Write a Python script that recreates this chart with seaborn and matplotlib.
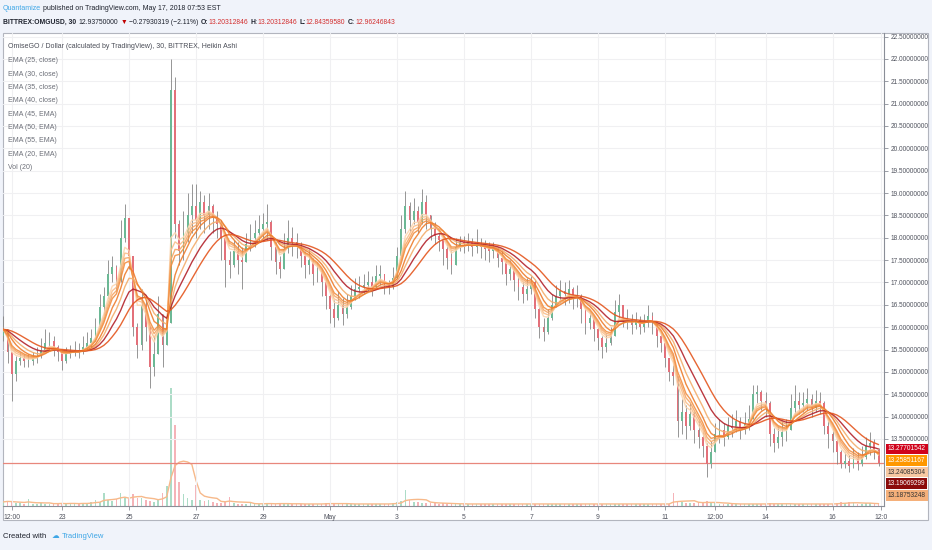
import numpy as np
import pandas as pd
import matplotlib
matplotlib.use("Agg")
import matplotlib.pyplot as plt
import matplotlib.dates as mdates
from matplotlib.patches import Rectangle
from matplotlib import font_manager
import seaborn as sns

W, H = 932, 550

# ------------------- data (3h Heikin Ashi bars, OMG/USD) -------------------
start = "2018-04-21 06:00"

close = [
    15.95, 15.45, 14.95, 15.25, 15.30, 15.25,                      # Apr 21 (from 06:00)
    15.25, 15.30, 15.35, 15.50, 15.65, 15.70, 15.55, 15.45,        # Apr 22
    15.25, 15.40, 15.45, 15.50, 15.45, 15.55, 15.65, 15.75,        # Apr 23
    16.00, 16.45, 16.70, 17.20, 17.35, 17.05, 18.00, 18.45,        # Apr 24
    17.60, 16.00, 15.60, 16.50, 16.00, 15.10, 15.40, 16.30,        # Apr 25
    15.60, 16.10, 21.30, 18.30, 17.70, 18.10, 18.50, 18.70,        # Apr 26
    18.40, 18.80, 18.50, 18.70, 18.45, 18.30, 18.00, 17.50,        # Apr 27
    17.40, 17.70, 17.50, 17.45, 17.85, 18.00, 18.10, 18.20,        # Apr 28
    18.30, 18.35, 17.80, 17.45, 17.30, 17.75, 18.00, 17.90,        # Apr 29
    17.80, 17.60, 17.40, 17.50, 17.20, 17.25, 17.00, 16.70,        # Apr 30
    16.40, 16.20, 16.50, 16.30, 16.45, 16.70, 16.85, 16.90,        # May 1
    16.95, 17.00, 16.90, 17.15, 17.20, 16.95, 16.90, 17.10,        # May 2
    17.60, 18.20, 18.70, 18.40, 18.60, 18.35, 18.80, 18.50,        # May 3
    18.20, 18.05, 17.95, 17.75, 17.55, 17.40, 17.80, 17.90,        # May 4
    17.85, 17.90, 17.80, 17.85, 17.80, 17.75, 17.70, 17.75,        # May 5
    17.55, 17.45, 17.20, 17.30, 17.05, 16.90, 16.75, 16.85,        # May 6
    17.00, 16.40, 16.00, 15.90, 16.20, 16.50, 16.70, 16.80,        # May 7
    16.75, 16.85, 16.65, 16.70, 16.40, 16.10, 16.20, 15.95,        # May 8
    15.75, 15.55, 15.65, 15.80, 16.35, 16.50, 16.20, 16.15,        # May 9
    16.05, 16.15, 16.00, 16.10, 16.25, 16.10, 15.80, 15.65,        # May 10
    15.30, 15.00, 14.90, 13.90, 14.10, 13.80, 14.05, 13.70,        # May 11
    13.55, 13.35, 12.95, 13.20, 13.60, 13.70, 13.55, 13.80,        # May 12
    13.75, 13.90, 13.70, 13.85, 13.95, 14.50, 14.55, 14.35,        # May 13
    14.30, 13.60, 13.40, 13.55, 13.65, 13.70, 14.20, 14.35,        # May 14
    14.25, 14.30, 14.40, 14.20, 14.35, 14.30, 13.80, 13.60,        # May 15
    13.45, 13.20, 12.95, 13.00, 12.90, 13.05, 12.95, 13.10,        # May 16
    13.35, 13.40, 13.25, 12.96,                                    # May 17
]

high = [
    16.25, 15.95, 15.45, 15.35, 15.45, 15.40,
    15.40, 15.45, 15.55, 15.75, 15.95, 15.90, 15.80, 15.60,
    15.50, 15.55, 15.60, 15.70, 15.65, 15.80, 15.90, 15.95,
    16.20, 16.75, 16.90, 17.50, 17.60, 17.40, 18.40, 18.75,
    18.30, 17.60, 16.10, 16.85, 16.60, 16.00, 15.80, 16.70,
    16.30, 16.40, 22.00, 21.60, 18.40, 18.60, 19.00, 19.20,
    19.20, 19.05, 18.95, 19.00, 18.75, 18.60, 18.40, 18.10,
    17.70, 17.95, 17.90, 17.80, 18.10, 18.30, 18.40, 18.50,
    18.55, 18.75, 18.40, 17.90, 17.60, 18.10, 18.40, 18.25,
    18.10, 17.90, 17.70, 17.75, 17.55, 17.45, 17.30, 17.10,
    16.75, 16.60, 16.80, 16.65, 16.75, 16.95, 17.10, 17.15,
    17.20, 17.25, 17.15, 17.40, 17.40, 17.20, 17.05, 17.35,
    17.80, 18.50, 19.05, 18.80, 18.90, 18.70, 19.10, 18.95,
    18.50, 18.35, 18.20, 18.05, 17.85, 17.70, 18.00, 18.05,
    18.05, 18.10, 18.00, 18.20, 18.00, 17.95, 17.90, 17.90,
    17.80, 17.70, 17.50, 17.50, 17.35, 17.15, 17.00, 17.10,
    17.15, 17.05, 16.45, 16.20, 16.40, 16.75, 16.95, 17.05,
    17.00, 17.05, 16.90, 16.95, 16.75, 16.40, 16.35, 16.25,
    16.00, 15.80, 15.85, 16.00, 16.60, 16.75, 16.50, 16.40,
    16.30, 16.35, 16.25, 16.30, 16.50, 16.35, 16.10, 15.90,
    15.60, 15.30, 15.15, 14.90, 14.40, 14.25, 14.30, 14.10,
    13.90, 13.65, 13.40, 13.45, 13.85, 13.95, 13.85, 14.00,
    14.05, 14.15, 14.00, 14.10, 14.25, 14.70, 14.70, 14.60,
    14.55, 14.35, 13.75, 13.80, 13.90, 13.95, 14.50, 14.70,
    14.55, 14.55, 14.65, 14.50, 14.60, 14.55, 14.35, 13.95,
    13.75, 13.50, 13.25, 13.20, 13.15, 13.30, 13.20, 13.35,
    13.55, 13.65, 13.50, 13.30,
]

low = [
    15.70, 15.20, 14.35, 14.80, 15.15, 15.10,
    15.10, 15.15, 15.20, 15.30, 15.45, 15.50, 15.35, 15.25,
    15.05, 15.20, 15.30, 15.35, 15.30, 15.40, 15.50, 15.55,
    15.70, 15.95, 16.30, 16.65, 17.00, 16.80, 17.00, 17.90,
    17.30, 15.80, 15.30, 15.50, 15.70, 14.65, 14.90, 15.40,
    15.10, 15.60, 16.10, 18.00, 17.40, 17.50, 17.90, 18.10,
    18.00, 18.20, 18.10, 18.20, 18.10, 18.00, 17.50, 16.90,
    17.10, 17.35, 17.20, 16.85, 17.50, 17.70, 17.80, 17.90,
    18.00, 17.95, 17.50, 17.20, 17.10, 17.30, 17.65, 17.60,
    17.55, 17.35, 17.10, 17.20, 16.95, 17.00, 16.70, 16.40,
    16.10, 16.00, 16.15, 16.05, 16.20, 16.40, 16.60, 16.65,
    16.75, 16.80, 16.70, 16.90, 16.95, 16.75, 16.75, 16.85,
    17.20, 17.55, 18.10, 18.15, 18.30, 18.10, 18.30, 18.20,
    17.95, 17.85, 17.70, 17.40, 17.30, 17.20, 17.40, 17.70,
    17.65, 17.70, 17.60, 17.65, 17.55, 17.50, 17.45, 17.55,
    17.35, 17.20, 16.95, 17.05, 16.80, 16.60, 16.55, 16.60,
    16.75, 16.20, 15.75, 15.70, 15.85, 16.15, 16.45, 16.55,
    16.50, 16.55, 16.40, 16.45, 16.10, 15.85, 15.95, 15.70,
    15.50, 15.30, 15.45, 15.60, 15.80, 16.20, 16.00, 15.95,
    15.85, 15.95, 15.85, 15.90, 16.00, 15.85, 15.55, 15.45,
    15.10, 14.80, 14.70, 13.55, 13.60, 13.50, 13.70, 13.40,
    13.30, 13.10, 12.65, 12.85, 13.30, 13.40, 13.35, 13.50,
    13.55, 13.65, 13.50, 13.60, 13.70, 13.95, 14.30, 14.15,
    14.00, 13.35, 13.20, 13.30, 13.35, 13.45, 13.70, 14.05,
    14.05, 14.10, 14.15, 14.00, 14.10, 14.05, 13.60, 13.30,
    13.20, 12.95, 12.85, 12.85, 12.75, 12.85, 12.80, 12.90,
    13.05, 13.15, 13.05, 12.90,
]

first_open = 15.80

volume = [
    4, 5, 4, 3, 3, 2,
    7, 2, 2, 3, 2, 2, 3, 2,
    3, 2, 3, 2, 2, 3, 3, 4,
    6, 4, 13, 6, 5, 7, 13, 8,
    7, 12, 8, 8, 6, 5, 4, 6,
    13, 20, 116, 79, 24, 12, 8, 6,
    21, 6, 5, 6, 4, 3, 3, 4,
    9, 3, 2, 2, 2, 3, 2, 2,
    2, 3, 2, 2, 3, 2, 2, 2,
    2, 2, 2, 2, 2, 2, 2, 3,
    3, 2, 2, 2, 2, 2, 2, 2,
    2, 2, 2, 2, 2, 2, 2, 3,
    4, 5, 16, 6, 4, 4, 3, 3,
    3, 3, 2, 3, 2, 2, 2, 2,
    2, 2, 2, 2, 2, 2, 2, 2,
    2, 2, 2, 2, 2, 2, 2, 2,
    2, 2, 2, 2, 2, 2, 2, 2,
    2, 2, 2, 2, 2, 2, 2, 2,
    2, 2, 2, 2, 2, 2, 2, 2,
    2, 2, 2, 2, 2, 2, 2, 2,
    2, 2, 13, 5, 4, 3, 3, 3,
    4, 3, 5, 3, 3, 2, 2, 2,
    2, 2, 2, 2, 2, 2, 2, 2,
    2, 3, 2, 2, 2, 2, 2, 2,
    2, 2, 2, 2, 2, 2, 2, 2,
    2, 3, 4, 3, 4, 3, 2, 2,
    3, 3, 2, 2,
]

# EMA study list: (label, source, length on 30-min bars, colour)
ema_specs = [
    ("EMA (25, close)", "close", 25, "#fcd6b0"),
    ("EMA (30, close)", "close", 30, "#f9bf8c"),
    ("EMA (35, close)", "close", 35, "#f6a766"),
    ("EMA (40, close)", "close", 40, "#f28f42"),
    ("EMA (45, EMA)", "EMA (25, close)", 45, "#f3ad6c"),
    ("EMA (50, EMA)", "EMA (40, close)", 50, "#b3232b"),
    ("EMA (55, EMA)", "EMA (45, EMA)", 55, "#e4561e"),
    ("EMA (20, EMA)", "EMA (35, close)", 20, "#ee7d2c"),
]

x_ticks = ["2018-04-21 12:00", "2018-04-23 00:00", "2018-04-25 00:00", "2018-04-27 00:00",
           "2018-04-29 00:00", "2018-05-01 00:00", "2018-05-03 00:00", "2018-05-05 00:00",
           "2018-05-07 00:00", "2018-05-09 00:00", "2018-05-11 00:00", "2018-05-12 12:00",
           "2018-05-14 00:00", "2018-05-16 00:00", "2018-05-17 10:45"]
x_labels = ["12:00", "23", "25", "27", "29", "May", "3", "5", "7", "9", "11", "12:00", "14", "16", "12:0"]

last_close = 12.96246843
price_tags = [13.27701542, 13.25851167, 13.24085304, 13.19069299, 13.18753248]
tag_colors = ["#d0021b", "#ff9800", "#f8c9a3", "#8b0a0a", "#f5b07a"]
tag_text = ["white", "white", "#333333", "white", "#333333"]

# ------------------- build frame -------------------
times = pd.date_range(start, periods=len(close), freq="3h")
df = pd.DataFrame({"close": close, "high": high, "low": low, "vol": volume}, index=times)
df["open"] = [first_open] + close[:-1]
df["t"] = mdates.date2num(df.index.to_pydatetime())

# 30-min lengths -> 3h bars
for name, src, length, _ in ema_specs:
    df[name] = df[src].ewm(span=length / 6.0, adjust=False).mean()
df["volma"] = df["vol"].rolling(6, min_periods=1).mean()

long_df = df.melt(id_vars="t", value_vars=[s[0] for s in ema_specs], var_name="study", value_name="price")
palette = {s[0]: s[3] for s in ema_specs}

# ------------------- fonts -------------------
sns.set_theme(style="white")
names = {f.name for f in font_manager.fontManager.ttflist}
narrow = "Liberation Sans Narrow" in names
base = "Liberation Sans Narrow" if narrow else "Liberation Sans"
k = 1.0 if narrow else 0.84
plt.rcParams["font.family"] = [base, "DejaVu Sans"]

# ------------------- figure -------------------
fig = plt.figure(figsize=(W / 100, H / 100), dpi=100, facecolor="#f0f3fa")
fig.patches.append(Rectangle((3 / W, 1 - 520 / H), 925 / W, 487 / H, transform=fig.transFigure,
                             fc="white", ec="#b2b5be", lw=0.8, zorder=-5))

ax = fig.add_axes([3 / W, 1 - 506 / H, 881 / W, 473 / H])
vol_ax = ax.twinx()
ax.set_zorder(vol_ax.get_zorder() + 1)
ax.patch.set_visible(False)

# volume overlay
up_vol = df["close"] >= df["open"]
vol_ax.bar(df["t"], df["vol"], width=0.05, color=np.where(up_vol, "#a3d9c1", "#f4abb1"), lw=0, alpha=0.9)
sns.lineplot(x=df["t"], y=df["volma"], ax=vol_ax, color="#f7b98a", lw=1.0)
vol_ax.set_ylim(0, df["vol"].max() * 4.0)
vol_ax.set_axis_off()

# Heikin Ashi candles
hi = np.maximum(df["high"], np.maximum(df["open"], df["close"]))
lo = np.minimum(df["low"], np.minimum(df["open"], df["close"]))
up = df["close"] >= df["open"]
body_lo = np.minimum(df["open"], df["close"])
body_h = np.maximum(np.abs(df["close"] - df["open"]), 0.015)
ax.vlines(df["t"], lo, hi, color="#858585", lw=0.6, zorder=2)
ax.bar(df["t"], body_h, bottom=body_lo, width=0.055, color=np.where(up, "#6cb895", "#e3707a"), lw=0, zorder=3)

# EMA ribbons
sns.lineplot(data=long_df, x="t", y="price", hue="study", palette=palette, estimator=None,
             lw=1.0, alpha=0.9, legend=False, ax=ax, zorder=4)

ax.axhline(last_close, color="#e8877c", lw=0.9, zorder=1.5)

ax.set_xlim(mdates.date2num(pd.Timestamp("2018-04-21 05:44")), mdates.date2num(pd.Timestamp("2018-05-17 12:53")))
ax.set_ylim(12.0, 22.58)
ax.set_xlabel("")
ax.set_ylabel("")

ax.set_xticks(mdates.date2num(pd.to_datetime(x_ticks, format="%Y-%m-%d %H:%M").to_pydatetime()))
ax.set_xticklabels(x_labels)
yt = np.arange(13.5, 22.51, 0.5)
ax.set_yticks(yt)
ax.set_yticklabels([f"{v:.8f}" for v in yt])
ax.yaxis.tick_right()
ax.tick_params(axis="y", right=True, left=False, length=3, width=0.6, color="#8a8e97",
               labelsize=5.6 * k, labelcolor="#50535e", pad=2)
ax.tick_params(axis="x", bottom=True, length=3, width=0.6, color="#8a8e97",
               labelsize=5.8 * k, labelcolor="#50535e", pad=3)
ax.grid(True, color="#f0f0f2", lw=0.8)
for side in ["left", "top"]:
    ax.spines[side].set_visible(False)
for side in ["right", "bottom"]:
    ax.spines[side].set_color("#8a8e97")
    ax.spines[side].set_linewidth(0.8)

# legend block
ax.text(5 / 881, 1 - 14 / 473, "OmiseGO / Dollar (calculated by TradingView), 30, BITTREX, Heikin Ashi",
        transform=ax.transAxes, fontsize=6.0 * k, color="#4a4d57", va="center", ha="left", zorder=6)
for i, label in enumerate([s[0] for s in ema_specs] + ["Vol (20)"]):
    ax.text(5 / 881, 1 - (28 + 13.3 * i) / 473, label, transform=ax.transAxes,
            fontsize=6.0 * k, color="#6c6f78", va="center", ha="left", zorder=6)

# stacked price tags on the scale
x_last = df["t"].iloc[-1]
prev = None
for v, fc, tc in zip(price_tags, tag_colors, tag_text):
    y = ax.transData.transform((x_last, v))[1]
    if prev is not None:
        y = min(y, prev - 11.6)
    prev = y
    fig.text(888 / W, y / H, f"{v:.8f}", fontsize=5.6 * k, color=tc, va="center", ha="left",
             bbox=dict(boxstyle="square,pad=0.28", fc=fc, ec="none"))

# header and footer
renderer = fig.canvas.get_renderer()


def put_runs(x_px, y_px, runs, size):
    x = x_px
    for txt, color, weight, gap in runs:
        x += gap
        t = fig.text(x / W, 1 - y_px / H, txt, color=color, fontsize=size, fontweight=weight,
                     va="center", ha="left")
        x += t.get_window_extent(renderer).width


dark = "#1e222d"
red = "#d32f2f"
put_runs(3, 8, [("Quantamize", "#3ea6e6", "normal", 0),
                ("published on TradingView.com, May 17, 2018 07:53 EST", dark, "normal", 2)], 6.0 * k)
put_runs(3, 22, [("BITTREX:OMGUSD, 30", dark, "bold", 0),
                 ("12.93750000", dark, "normal", 2.5),
                 ("▼", "#c00000", "normal", 2),
                 ("−0.27930319 (−2.11%)", dark, "normal", 2),
                 ("O:", dark, "bold", 2.5), ("13.20312846", red, "normal", 0),
                 ("H:", dark, "bold", 2.5), ("13.20312846", red, "normal", 0),
                 ("L:", dark, "bold", 2.5), ("12.84359580", red, "normal", 0),
                 ("C:", dark, "bold", 2.5), ("12.96246843", red, "normal", 0)], 5.8 * k)
put_runs(3, 536, [("Created with", dark, "normal", 0),
                  ("☁", "#3ea6e6", "normal", 5),
                  ("TradingView", "#3ea6e6", "normal", 3)], 6.6 * k)

fig.savefig("out.png", dpi=100, facecolor=fig.get_facecolor())
